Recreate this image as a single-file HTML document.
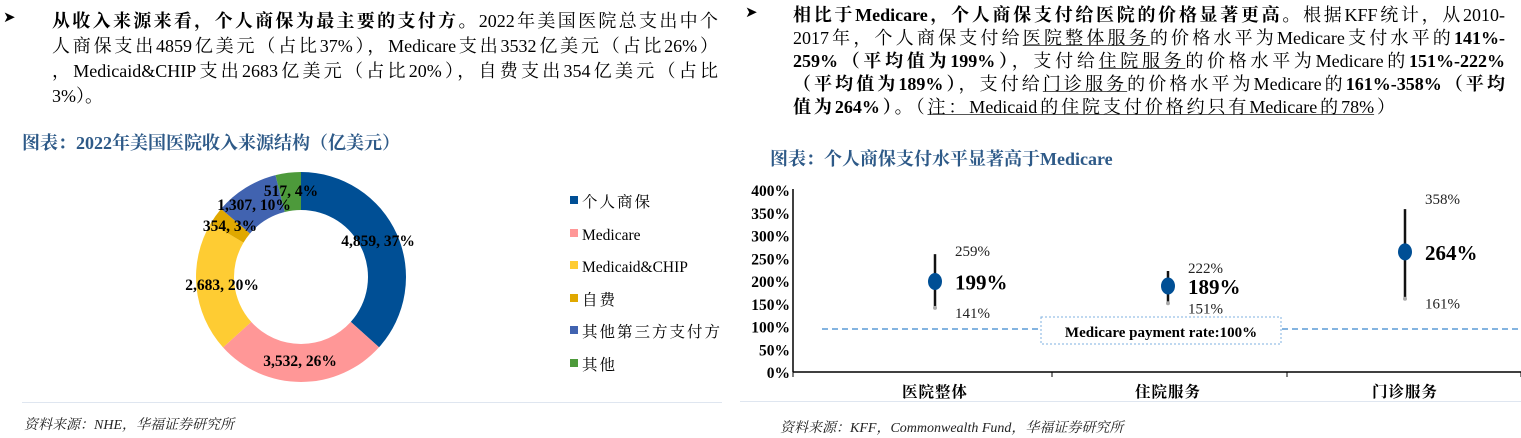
<!DOCTYPE html>
<html><head><meta charset="utf-8"><style>
body{margin:0;width:1521px;height:438px;background:#fff;position:relative;overflow:hidden;font-family:"Liberation Serif","Noto Serif CJK SC",serif;color:#000}
.a{position:absolute;white-space:nowrap}
.ln{position:absolute;white-space:nowrap;font-size:18px;text-align:justify;text-align-last:justify;height:24px;line-height:24px}
b{font-weight:bold}
u{text-decoration:underline;text-decoration-color:#555}
.t{font-weight:bold;color:#2e5a88;font-size:18px}
.src{font-style:italic;font-size:14px;color:#222}
</style></head><body>
<div class="a" style="left:3px;top:8px;font-size:15px">&#10148;</div>
<div class="ln" style="left:52px;top:9px;width:666px"><b>从收入来源来看，个人商保为最主要的支付方。</b>2022年美国医院总支出中个</div>
<div class="ln" style="left:52px;top:34px;width:666px">人商保支出4859亿美元（占比37%），Medicare支出3532亿美元（占比26%）</div>
<div class="ln" style="left:52px;top:59px;width:666px">，Medicaid&amp;CHIP支出2683亿美元（占比20%），自费支出354亿美元（占比</div>
<div class="ln" style="left:52px;top:84px;text-align-last:left">3%）。</div>
<div class="a t" style="left:22px;top:129px">图表：2022年美国医院收入来源结构（亿美元）</div>
<svg class="a" style="left:0;top:0" width="740" height="438" id="d"></svg>
<div class="a" style="left:22px;top:402px;width:700px;height:1px;background:#dfe6f0"></div>
<div class="a src" style="left:24px;top:414px">资料来源：NHE，华福证券研究所</div>

<div class="a" style="left:745px;top:3px;font-size:15px">&#10148;</div>
<div class="ln" style="left:793px;top:3px;width:712px"><b>相比于Medicare，个人商保支付给医院的价格显著更高。</b>根据KFF统计，从2010-</div>
<div class="ln" style="left:793px;top:26px;width:712px">2017年，个人商保支付给<u>医院整体服务</u>的价格水平为Medicare支付水平的<b>141%-</b></div>
<div class="ln" style="left:793px;top:49px;width:712px"><b>259%（平均值为199%）</b>，支付给<u>住院服务</u>的价格水平为Medicare的<b>151%-222%</b></div>
<div class="ln" style="left:793px;top:72px;width:712px"><b>（平均值为189%）</b>，支付给<u>门诊服务</u>的价格水平为Medicare的<b>161%-358%（平均</b></div>
<div class="ln" style="left:793px;top:95px;width:602px"><b>值为264%）</b>。（<u>注：Medicaid的住院支付价格约只有Medicare的78%</u>）</div>
<div class="a t" style="left:770px;top:145px">图表：个人商保支付水平显著高于Medicare</div>
<svg class="a" style="left:740px;top:0" width="781" height="438" id="r"></svg>
<div class="a" style="left:740px;top:401px;width:781px;height:1px;background:#dfe6f0"></div>
<div class="a src" style="left:780px;top:417px">资料来源：KFF，Commonwealth Fund，华福证券研究所</div>
<script>
var NS="http://www.w3.org/2000/svg";
function el(p,t,a,tx){var e=document.createElementNS(NS,t);for(var k in a)e.setAttribute(k,a[k]);if(tx!=null)e.textContent=tx;p.appendChild(e);return e;}
var d=document.getElementById('d');
var v=[4859,3532,2683,354,1307,517],c=['#004f95','#ff9797','#fecc33','#e0a800','#4163b0','#4d9a3b'];
var tot=v.reduce(function(a,b){return a+b}),cx=301,cy=277,R=105,r=67,a0=0;
v.forEach(function(x,i){var a1=a0+x/tot*2*Math.PI;
function p(rr,a){return [cx+rr*Math.sin(a),cy-rr*Math.cos(a)];}
var P1=p(R,a0),P2=p(R,a1),P3=p(r,a1),P4=p(r,a0),L=(a1-a0)>Math.PI?1:0;
el(d,'path',{d:'M'+P1+' A'+R+','+R+' 0 '+L+' 1 '+P2+' L'+P3+' A'+r+','+r+' 0 '+L+' 0 '+P4+'Z',fill:c[i]});a0=a1;});
var lb=[['4,859, 37%',378,246],['3,532, 26%',300,366],['2,683, 20%',222,290],['354, 3%',230,231],['1,307, 10%',254,210],['517, 4%',291,196]];
lb.forEach(function(l){el(d,'text',{x:l[1],y:l[2],'text-anchor':'middle','font-size':15.5,'font-weight':'bold','font-family':'Liberation Serif'},l[0]);});
var lg=['个人商保','Medicare','Medicaid&CHIP','自费','其他第三方支付方','其他'],ly=[201,234,266,299,331,364];
lg.forEach(function(t,i){el(d,'rect',{x:570,y:ly[i]-5,width:8,height:8,fill:c[i]});
el(d,'text',{x:582,y:ly[i]+6,'font-size':15.5,'font-family':'Liberation Serif, Noto Serif CJK SC, serif','letter-spacing':i==0||i>2?2:0},t);});
var g=document.getElementById('r');
var ax=53,y0=372,s=45.5/100;function Y(p){return y0-p*s;}
for(var k=0;k<=8;k++){var p=k*50;el(g,'text',{x:50,y:Y(p)+6,'text-anchor':'end','font-size':15.5,'font-weight':'bold','font-family':'Liberation Serif'},p+'%');}
el(g,'line',{x1:ax,y1:189,x2:ax,y2:y0,stroke:'#000','stroke-width':1.5});
el(g,'line',{x1:ax,y1:y0,x2:781,y2:y0,stroke:'#000','stroke-width':1.5});
[ax,312,547,781].forEach(function(x){el(g,'line',{x1:x,y1:y0,x2:x,y2:y0+5,stroke:'#000'});});
el(g,'line',{x1:82,y1:329,x2:781,y2:329,stroke:'#5b9bd5','stroke-width':1.5,'stroke-dasharray':'6,4'});
el(g,'rect',{x:301,y:317,width:240,height:27,fill:'#fff',stroke:'#7fb0e0','stroke-dasharray':'2,2'});
el(g,'text',{x:421,y:337,'text-anchor':'middle','font-size':15,'font-weight':'bold','font-family':'Liberation Serif'},'Medicare payment rate:100%');
var cs=[[195,141,259,199,'医院整体'],[428,151,222,189,'住院服务'],[665,161,358,264,'门诊服务']];
cs.forEach(function(q){var x=q[0];
el(g,'line',{x1:x,y1:Y(q[1]),x2:x,y2:Y(q[2]),stroke:'#111','stroke-width':2.5});
el(g,'circle',{cx:x,cy:Y(q[1]),r:2,fill:'#aaa'});
el(g,'ellipse',{cx:x,cy:Y(q[3]),rx:7,ry:8.5,fill:'#004f95'});
el(g,'text',{x:x+20,y:Y(q[2])+(q[2]>300?-5:2),'font-size':15,'font-family':'Liberation Serif',fill:'#222'},q[2]+'%');
el(g,'text',{x:x+20,y:Y(q[1])+10,'font-size':15,'font-family':'Liberation Serif',fill:'#222'},q[1]+'%');
el(g,'text',{x:x+20,y:Y(q[3])+8,'font-size':21,'font-weight':'bold','font-family':'Liberation Serif'},q[3]+'%');
el(g,'text',{x:x,y:397,'text-anchor':'middle','font-size':15.5,'font-weight':'bold','font-family':'Liberation Serif, Noto Serif CJK SC, serif','letter-spacing':1},q[4]);});
</script>
</body></html>
